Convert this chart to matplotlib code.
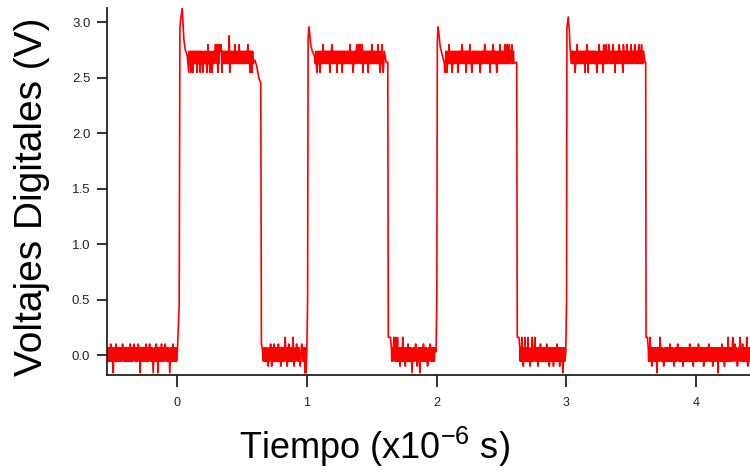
import numpy as np
import matplotlib
matplotlib.use('Agg')
import matplotlib.pyplot as plt

plt.rcParams['font.family'] = ['Liberation Sans', 'DejaVu Sans']
plt.rcParams['mathtext.fontset'] = 'custom'
plt.rcParams['mathtext.rm'] = 'Liberation Sans'
plt.rcParams['mathtext.default'] = 'regular'

# flat parts of the trace (x10^-6 s) and the band the toggling noise fills (V)
flat_start = [-0.54, 0.09, 0.665, 1.065, 1.655, 2.06, 2.645, 3.04, 3.635]
flat_end = [0.00, 0.59, 0.99, 1.60, 1.99, 2.60, 2.99, 3.60, 4.42]
band_lo = [-0.055, 2.63, -0.055, 2.63, -0.055, 2.63, -0.055, 2.63, -0.055]
band_hi = [0.065, 2.74, 0.065, 2.74, 0.065, 2.74, 0.065, 2.74, 0.065]

# edges between flat parts: times and volts
edge_t = [[0.003, 0.016, 0.022, 0.030, 0.040, 0.046, 0.052, 0.062, 0.078],
          [0.600, 0.615, 0.630, 0.645, 0.650, 0.658],
          [0.994, 1.000, 1.006, 1.010, 1.016, 1.022, 1.030, 1.042, 1.058],
          [1.612, 1.624, 1.628, 1.645, 1.652],
          [1.996, 2.002, 2.006, 2.012, 2.018, 2.028, 2.045],
          [2.612, 2.618, 2.622, 2.635, 2.642],
          [2.996, 3.002, 3.005, 3.015, 3.022, 3.030],
          [3.606, 3.612, 3.615, 3.625, 3.632]]
edge_v = [[0.05, 0.45, 2.95, 3.05, 3.13, 2.98, 2.85, 2.76, 2.70],
          [2.66, 2.60, 2.50, 2.45, 0.10, 0.05],
          [-0.16, 0.02, 0.50, 2.85, 2.96, 2.90, 2.80, 2.74, 2.70],
          [2.64, 2.64, 0.16, 0.16, 0.06],
          [0.03, 0.50, 2.85, 2.96, 2.90, 2.78, 2.70],
          [2.64, 2.64, 0.16, 0.16, 0.06],
          [0.02, 0.50, 2.95, 3.05, 2.95, 2.76],
          [2.64, 2.64, 0.16, 0.16, 0.06]]

# single-sample spikes sticking out of the bands
high_dips = [0.092, 0.108, 0.123, 0.154, 0.177, 0.200, 0.231, 0.254, 0.270, 0.316, 0.347, 0.408, 0.563, 0.578,
             1.079, 1.102, 1.179, 1.233, 1.272, 1.356, 1.434, 1.472, 1.565, 1.590,
             2.066, 2.081, 2.119, 2.166, 2.227, 2.274, 2.335, 2.412, 2.466, 2.528,
             3.067, 3.145, 3.168, 3.237, 3.283, 3.376, 3.437]
high_ups = [0.239, 0.293, 0.300, 0.310, 0.320, 0.330, 0.340, 0.447, 0.478, 0.547,
            1.125, 1.195, 1.333, 1.387, 1.400, 1.414, 1.426, 1.503, 1.549, 1.580,
            2.096, 2.196, 2.258, 2.374, 2.435, 2.489, 2.530, 2.545, 2.560, 2.580,
            3.083, 3.160, 3.252, 3.290, 3.310, 3.330, 3.360, 3.410, 3.440, 3.470, 3.500, 3.530, 3.560, 3.580]
high_tall = [0.401]
low_ups = [-0.51, -0.47, -0.42, -0.36, -0.33, -0.30, -0.24, -0.21, -0.16, -0.12, -0.09, -0.03,
           0.72, 0.75, 0.78, 0.86, 0.92, 0.96,
           1.78, 1.84, 1.90, 1.95,
           2.80, 2.85, 2.93,
           3.80, 3.86, 3.95, 4.02, 4.10, 4.20, 4.30, 4.36]
low_tall = [0.832, 0.894, 1.67, 1.685, 1.70, 1.74, 2.659, 2.682, 2.705, 2.736, 2.759,
            3.645, 3.723, 4.247, 4.285, 4.339, 4.393]
low_dips = [0.70, 0.73, 0.80, 0.85, 0.90, 0.95, 1.72, 1.76, 1.85, 1.93,
            2.67, 2.72, 2.78, 2.87, 2.90, 2.95,
            3.66, 3.75, 3.83, 3.90, 3.98, 4.06, 4.13, 4.22, 4.32, 4.40]
low_deep = [-0.493, -0.285, -0.185, -0.146, -0.054, 0.985, 1.811, 1.873, 2.975, 3.699, 4.170]

spikes = [(high_dips, 2.55), (high_ups, 2.80), (high_tall, 2.88), (low_ups, 0.10),
          (low_tall, 0.16), (low_dips, -0.10), (low_deep, -0.16)]

#build the trace: band toggles sample to sample, spikes replace one sample
dt = 0.004
ts, vs = [], []
for i in range(len(flat_start)):
    t = np.arange(flat_start[i], flat_end[i], dt)
    v = np.where(np.arange(len(t)) % 2 == 0, band_lo[i], band_hi[i])
    for times, level in spikes:
        for st in times:
            if flat_start[i] <= st <= flat_end[i]:
                v[np.argmin(abs(t - st))] = level
    ts.append(t)
    vs.append(v)
    if i < len(edge_t):
        ts.append(np.array(edge_t[i]))
        vs.append(np.array(edge_v[i]))
time = np.concatenate(ts)
volts = np.concatenate(vs)

fig = plt.figure(figsize=(7.5, 4.75), dpi=100)
ax = fig.add_axes([0.1427, 0.2105, 0.8573, 0.7725])
ax.plot(time, volts, color='#ff0000', linewidth=1.2)

ax.set_xlim(-0.54, 4.416)
ax.set_ylim(-0.18, 3.13)
ax.set_xticks([0, 1, 2, 3, 4])
ax.set_yticks([0.0, 0.5, 1.0, 1.5, 2.0, 2.5, 3.0])
ax.set_yticklabels(['0.0', '0.5', '1.0', '1.5', '2.0', '2.5', '3.0'])
for side in ['top', 'right']:
    ax.spines[side].set_visible(False)
for side in ['left', 'bottom']:
    ax.spines[side].set_linewidth(1.3)
    ax.spines[side].set_color('#222222')
ax.tick_params(axis='x', direction='out', length=8.5, width=1.3, pad=7, labelsize=9, colors='#222222')
ax.tick_params(axis='y', direction='out', length=7, width=1.3, pad=5, labelsize=9.5, colors='#222222')

ax.set_ylabel('Voltajes Digitales (V)', fontsize=28)
ax.yaxis.set_label_coords(-0.088, 0.485)
ax.set_xlabel('Tiempo (x10$^{-6}$ s)', fontsize=26)
ax.xaxis.set_label_coords(0.416, -0.135)

fig.savefig('out.png', dpi=100)
